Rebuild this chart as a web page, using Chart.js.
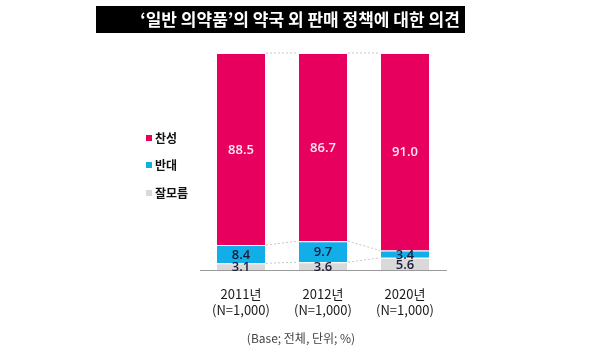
<!DOCTYPE html>
<html>
<head>
<meta charset="utf-8">
<script src="https://cdn.jsdelivr.net/npm/chart.js@4.4.1/dist/chart.umd.min.js"></script>
<style>
    body { margin: 0; background: #fff; }
    #wrap { position: relative; width: 600px; height: 354px; overflow: hidden; font-family: "Noto Sans CJK KR", "Noto Sans", sans-serif; }
    #titulo_fondo { position: absolute; left: 96px; top: 6px; width: 369px; height: 27px; background: #000; }
    #titulo { position: absolute; left: 0; top: 6px; width: 600px; height: 27px; line-height: 26px; text-align: center; color: #fff; font-weight: bold; font-size: 17px; }
    #pie { position: absolute; left: 0; top: 329px; width: 602px; text-align: center; font-size: 12px; color: #444; }
    canvas { position: absolute; left: 0; top: 0; }
</style>
</head>
<body>
<div id="wrap">
    <canvas id="myChart" width="600" height="354"></canvas>
    <div id="titulo_fondo"></div>
    <div id="titulo">‘일반 의약품’의 약국 외 판매 정책에 대한 의견</div>
    <div id="pie">(Base; 전체, 단위; %)</div>
</div>
<script>
// datos
var categorias = [['2011년', '(N=1,000)'], ['2012년', '(N=1,000)'], ['2020년', '(N=1,000)']];
var chanseong = [88.5, 86.7, 91.0];   // 찬성
var bandae = [8.4, 9.7, 3.4];         // 반대
var jalmoreum = [3.1, 3.6, 5.6];      // 잘모름
var etiquetas_serie = ['찬성', '반대', '잘모름'];

var colores = { rosa: '#E8005F', azul: '#12AEE8', gris: '#D9D9D9' };

// etiquetas de valor dentro de cada segmento
var etiquetas_valor = {
    id: 'etiquetas_valor',
    afterDatasetsDraw: function (chart) {
        var ctx = chart.ctx;
        ctx.save();
        ctx.font = '600 13px "Open Sans", sans-serif';
        ctx.textAlign = 'center';
        ctx.textBaseline = 'middle';
        chart.data.datasets.forEach(function (ds, i) {
            var meta = chart.getDatasetMeta(i);
            meta.data.forEach(function (bar, j) {
                ctx.fillStyle = ds.colorTexto;
                var y = (bar.y + bar.base) / 2;
                ctx.fillText(ds.data[j].toFixed(1), bar.x, y + 1);
            });
        });
        ctx.restore();
    }
};

// lineas punteadas entre barras
var conectores = {
    id: 'conectores',
    beforeDatasetsDraw: function (chart) {
        var ctx = chart.ctx;
        ctx.save();
        ctx.strokeStyle = '#c8c8c8';
        ctx.lineWidth = 1;
        ctx.setLineDash([2, 2]);
        chart.data.datasets.forEach(function (ds, i) {
            var meta = chart.getDatasetMeta(i);
            for (var j = 0; j < meta.data.length - 1; j++) {
                var a = meta.data[j], b = meta.data[j + 1];
                ctx.beginPath();
                ctx.moveTo(a.x + a.width / 2, a.y);
                ctx.lineTo(b.x - b.width / 2, b.y);
                ctx.stroke();
            }
        });
        ctx.restore();
    }
};

// leyenda a la izquierda
var leyenda = {
    id: 'leyenda',
    afterDraw: function (chart) {
        var ctx = chart.ctx;
        var items = [
            { texto: etiquetas_serie[0], color: colores.rosa, y: 138 },
            { texto: etiquetas_serie[1], color: colores.azul, y: 165 },
            { texto: etiquetas_serie[2], color: colores.gris, y: 193 }
        ];
        ctx.save();
        ctx.font = 'bold 12px "Noto Sans CJK KR", sans-serif';
        ctx.textBaseline = 'middle';
        items.forEach(function (it) {
            ctx.fillStyle = it.color;
            ctx.fillRect(146, it.y - 3, 6, 6);
            ctx.fillStyle = '#111';
            ctx.fillText(it.texto, 155, it.y);
        });
        ctx.restore();
    }
};

var ctx = document.getElementById('myChart');
var myChart = new Chart(ctx, {
    type: 'bar',
    data: {
        labels: categorias,
        datasets: [
            {
                label: etiquetas_serie[2],
                data: jalmoreum,
                backgroundColor: colores.gris,
                borderColor: 'rgba(255,255,255,0.6)',
                borderWidth: 1,
                colorTexto: '#1c1c3a'
            },
            {
                label: etiquetas_serie[1],
                data: bandae,
                backgroundColor: colores.azul,
                borderColor: 'rgba(255,255,255,0.6)',
                borderWidth: 1,
                colorTexto: '#1c1c3a'
            },
            {
                label: etiquetas_serie[0],
                data: chanseong,
                backgroundColor: colores.rosa,
                borderColor: 'rgba(255,255,255,0.6)',
                borderWidth: 1,
                colorTexto: '#ffe6f0'
            }
        ]
    },
    plugins: [conectores, etiquetas_valor, leyenda],
    options: {
        responsive: false,
        animation: false,
        datasets: {
            bar: { categoryPercentage: 1, barPercentage: 0.61 }
        },
        layout: { padding: { left: 200, right: 154, top: 53, bottom: 0 } },
        plugins: {
            legend: { display: false },
            tooltip: { enabled: false }
        },
        scales: {
            x: {
                stacked: true,
                grid: { display: false },
                border: { display: true, color: '#9a9a9a' },
                ticks: {
                    color: '#1a1a1a',
                    padding: 8,
                    font: { size: 13, family: '"Noto Sans CJK KR", sans-serif', lineHeight: 1.25 }
                },
                afterFit: function (scale) { scale.height = 84; }
            },
            y: {
                stacked: true,
                display: false,
                min: 0,
                max: 100
            }
        }
    }
});
</script>
</body>
</html>
